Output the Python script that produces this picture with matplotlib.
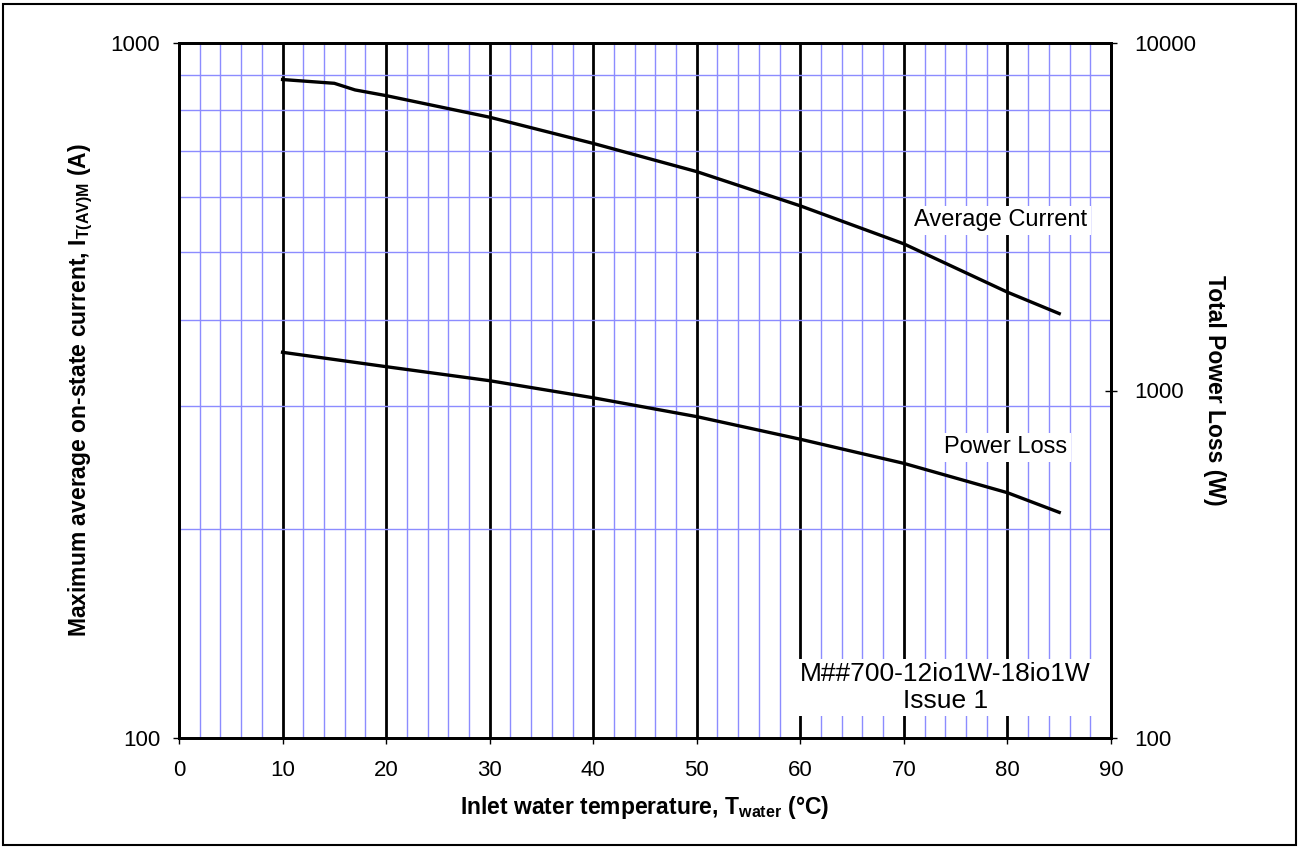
import matplotlib
matplotlib.use("Agg")
from matplotlib import pyplot as plt
from matplotlib.patches import Rectangle
from matplotlib.ticker import MultipleLocator, LogLocator, NullFormatter, FixedLocator

plt.rcParams['font.family'] = ['Liberation Sans', 'DejaVu Sans']
plt.rcParams['mathtext.fontset'] = 'custom'
plt.rcParams['mathtext.rm'] = 'Liberation Sans'
plt.rcParams['mathtext.bf'] = 'Liberation Sans:bold'
plt.rcParams['mathtext.default'] = 'bf'

# data
temp_current = [10, 15, 17, 20, 30, 40, 50, 60, 70, 80, 85]
avg_current = [886, 875, 856, 840, 782, 717, 653, 583, 514, 438, 408]

temp_power = [10, 20, 30, 40, 50, 60, 70, 80, 85]
power_loss = [1288, 1171, 1067, 953, 841, 724, 617, 508, 446]

x_ticks = [0, 10, 20, 30, 40, 50, 60, 70, 80, 90]
left_ticks = [100, 1000]
right_ticks = [100, 1000, 10000]

grid_blue = '#8c8cff'

fig = plt.figure(figsize=(13, 8.48), dpi=100)
ax = fig.add_axes([179 / 1300, 110 / 848, 932 / 1300, 695 / 848])

# outer frame around the whole figure
fig.patches.append(Rectangle((3 / 1300, 3 / 848), 1293 / 1300, 841 / 848,
                             transform=fig.transFigure, fill=False,
                             edgecolor='black', linewidth=1.5))

ax.set_xlim(0, 90)
ax.set_yscale('log')
ax.set_ylim(100, 1000)
ax.xaxis.set_major_locator(FixedLocator(x_ticks))
ax.xaxis.set_minor_locator(MultipleLocator(2))
ax.yaxis.set_major_locator(FixedLocator(left_ticks))
ax.yaxis.set_minor_locator(LogLocator(base=10, subs=range(2, 10)))
ax.yaxis.set_minor_formatter(NullFormatter())
ax.set_yticklabels([str(v) for v in left_ticks])

ax.grid(which='minor', color=grid_blue, linewidth=1.0)
ax.grid(which='major', axis='x', color='black', linewidth=2.0)
ax.set_axisbelow(True)
ax.tick_params(which='minor', length=0)
ax.tick_params(which='major', length=4.5, width=1, labelsize=16, direction='out')
ax.tick_params(axis='x', pad=11)
ax.tick_params(axis='y', pad=9)

for s in ax.spines.values():
    s.set_linewidth(2)

ax.plot(temp_current, avg_current, color='black', linewidth=2.4, zorder=5)

ax.set_xlabel(r'Inlet water temperature, $T_{water}$ (°C)', fontsize=16.5,
              fontweight='bold', labelpad=10)
ax.set_ylabel(r'Maximum average on-state current, $I_{T(AV)M}$ (A)', fontsize=16.5,
              fontweight='bold', labelpad=11)

ax2 = ax.twinx()
ax2.set_yscale('log')
ax2.set_ylim(100, 10000)
ax2.yaxis.set_major_locator(FixedLocator(right_ticks))
ax2.yaxis.set_minor_locator(FixedLocator([]))
ax2.set_yticklabels([str(v) for v in right_ticks])
ax2.tick_params(which='major', length=9, width=1, labelsize=16, direction='inout', pad=12)
for s in ax2.spines.values():
    s.set_linewidth(2)

ax2.plot(temp_power, power_loss, color='black', linewidth=2.4, zorder=5)
ax2.set_ylabel('Total Power Loss (W)', fontsize=16.5, fontweight='bold',
               rotation=270, labelpad=22)

box = dict(boxstyle='square,pad=0.15', facecolor='white', edgecolor='none')
ax2.text(79.33, 556, 'Average Current', transform=ax.transData, fontsize=17,
         ha='center', va='center', bbox=box, zorder=3)
ax2.text(79.86, 262, 'Power Loss', transform=ax.transData, fontsize=17,
         ha='center', va='center', bbox=box, zorder=3)
ax2.text(74.0, 118.2, 'M##700-12io1W-18io1W\nIssue 1', transform=ax.transData,
         fontsize=19, ha='center', va='center', linespacing=1.2,
         bbox=dict(boxstyle='square,pad=0.1', facecolor='white', edgecolor='none'),
         zorder=3)

fig.savefig('out.png', dpi=100)
